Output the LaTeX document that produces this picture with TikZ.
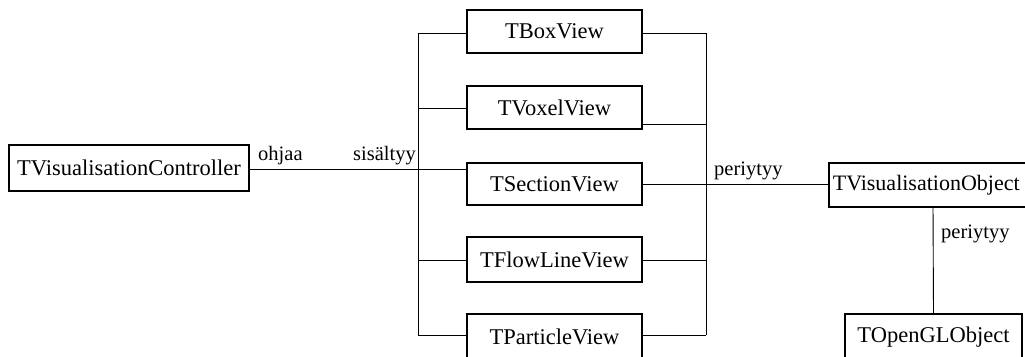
\documentclass[tikz,border=0pt]{standalone}
\usepackage{fontspec}
\setmainfont{Liberation Serif}
\begin{document}
\begin{tikzpicture}[x=1pt,y=-1pt,
  cls/.style={draw,line width=1.6pt,rectangle,inner sep=0pt,
    font=\fontsize{22.5}{25}\selectfont},
  lbl/.style={font=\fontsize{20.5}{22}\selectfont,inner sep=0pt},
  conn/.style={line width=0.9pt}]
\useasboundingbox (0,0) rectangle (1025,356);
\clip (0,0) rectangle (1025,356);
\fill[white] (0,0) rectangle (1025,356);

% class boxes
\node[cls,minimum width=240pt,minimum height=46pt] (ctrl) at (129,168) {TVisualisationController};
\node[cls,minimum width=175pt,minimum height=43pt] (box) at (554.5,31.5) {TBoxView};
\node[cls,minimum width=175pt,minimum height=43pt] (voxel) at (554.5,107.5) {TVoxelView};
\node[cls,minimum width=175pt,minimum height=42pt] (section) at (554.5,184) {TSectionView};
\node[cls,minimum width=175pt,minimum height=45pt] (flow) at (554.5,259.5) {TFlowLineView};
\node[cls,minimum width=175pt,minimum height=46pt,anchor=north] (particle) at (554.5,313) {TParticleView};
\node[cls,minimum width=210pt,minimum height=44pt,anchor=north west,
      font=\fontsize{22}{25}\selectfont,
      align=left,text width=202pt,inner xsep=4pt] (visobj) at (828,162) {TVisualisationObject};
\node[cls,minimum width=177pt,minimum height=46pt,anchor=north] (gl) at (933.5,313) {TOpenGLObject};

% bus lines
\coordinate (lt) at (418,33);
\coordinate (lb) at (418,335);
\coordinate (rt) at (706,33);
\coordinate (rb) at (706,335);

% containment: controller to the views
\draw[conn] (ctrl.east |- 0,169) -- (section.west |- 0,169);
\draw[conn] (lt) -- (lb);
\draw[conn] (lt) -- (box.west |- lt);
\draw[conn] (418,108) -- (voxel.west |- 0,108);
\draw[conn] (418,260) -- (flow.west |- 0,260);
\draw[conn] (lb) -- (particle.west |- lb);

% inheritance: views to TVisualisationObject
\draw[conn] (rt) -- (rb);
\draw[conn] (box.east |- rt) -- (rt);
\draw[conn] (voxel.east |- 0,124) -- (706,124);
\draw[conn] (section.east) -- (visobj.west |- section.east);
\draw[conn] (flow.east |- 0,260) -- (706,260);
\draw[conn] (particle.east |- rb) -- (rb);

% inheritance: TOpenGLObject to TVisualisationObject
\draw[conn] (933,206) -- (gl.north);

% labels
\node[lbl,anchor=base west] (l1) at (258,160) {ohjaa};
\node[lbl,anchor=base east] (l2) at (416,160) {sisältyy};
\node[lbl,anchor=base west] (l3) at (714,175) {periytyy};
\node[lbl,anchor=base west] (l4) at (941,238) {periytyy};
\end{tikzpicture}
\end{document}
